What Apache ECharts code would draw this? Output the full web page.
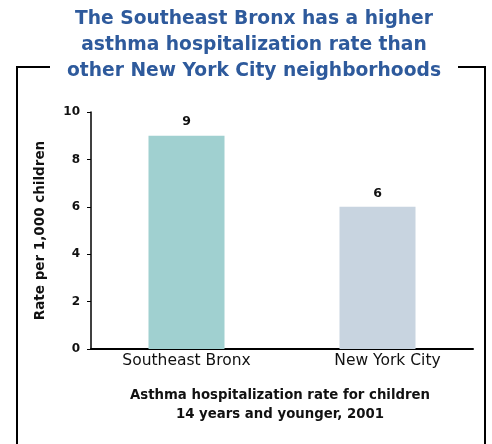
<!DOCTYPE html>
<html><head><meta charset="utf-8">
<script src="https://cdn.jsdelivr.net/npm/echarts@6/dist/echarts.min.js"></script>
<style>html,body{margin:0;padding:0;background:#fff}#c{width:492px;height:444px}</style>
</head><body><div id="c"></div>
<script>
const titleLines = ['The Southeast Bronx has a higher','asthma hospitalization rate than','other New York City neighborhoods'];
const categories = ['Southeast Bronx','New York City'];
const rates = [9, 6];
const barColors = ['#a0d0d0','#c8d4e0'];
const yTicks = [0, 2, 4, 6, 8, 10];
const yName = 'Rate per 1,000 children';
const caption = ['Asthma hospitalization rate for children','14 years and younger, 2001'];
const FONT = 'DejaVu Sans';
const labelShift = [0, 20];

const chart = echarts.init(document.getElementById('c'), null, {renderer:'canvas'});
chart.setOption({
  animation:false,
  backgroundColor:'#fff',
  title:{
    text: titleLines.join('\n'), left:254, textAlign:'center', top:1, itemGap:0, padding:[5,0,5,0],
    textStyle:{color:'#2e5a9c', fontFamily:FONT, fontWeight:'bold', fontSize:18.7, lineHeight:26}
  },
  grid:{left:91, right:19, top:112, bottom:95},
  xAxis:{
    type:'category',
    data: categories.map((c,i)=>({value:c, textStyle:{padding:[0,0,0,labelShift[i]]}})),
    axisLine:{lineStyle:{color:'#000', width:2}},
    axisTick:{show:false},
    axisLabel:{color:'#111', fontFamily:FONT, fontSize:15.5, margin:4}
  },
  yAxis:{
    type:'value', min:yTicks[0], max:yTicks[yTicks.length-1], interval:2,
    name:yName, nameLocation:'middle', nameGap:44,
    nameTextStyle:{color:'#111', fontFamily:FONT, fontWeight:'bold', fontSize:13.5},
    axisLine:{show:true, lineStyle:{color:'#000', width:1.5}},
    axisTick:{show:true, length:4, lineStyle:{color:'#000'}},
    axisLabel:{color:'#111', fontFamily:FONT, fontWeight:'bold', fontSize:12, margin:11},
    splitLine:{show:false}
  },
  series:[{
    type:'bar', barWidth:76,
    data: rates.map((v,i)=>({value:v, itemStyle:{color:barColors[i]}})),
    label:{show:true, position:'top', distance:7, color:'#111', fontFamily:FONT, fontWeight:'bold', fontSize:12.5}
  }],
  graphic:[
    {type:'polyline', shape:{points:[[50,67],[17,67],[17,444]]}, style:{stroke:'#000', lineWidth:2, fill:null}},
    {type:'polyline', shape:{points:[[458,67],[485,67],[485,444]]}, style:{stroke:'#000', lineWidth:2, fill:null}},
    {type:'text', x:280, y:386, style:{text:caption.join('\n'), fill:'#111', font:'bold 13.3px "DejaVu Sans"', align:'center', lineHeight:19}}
  ]
});
</script></body></html>
